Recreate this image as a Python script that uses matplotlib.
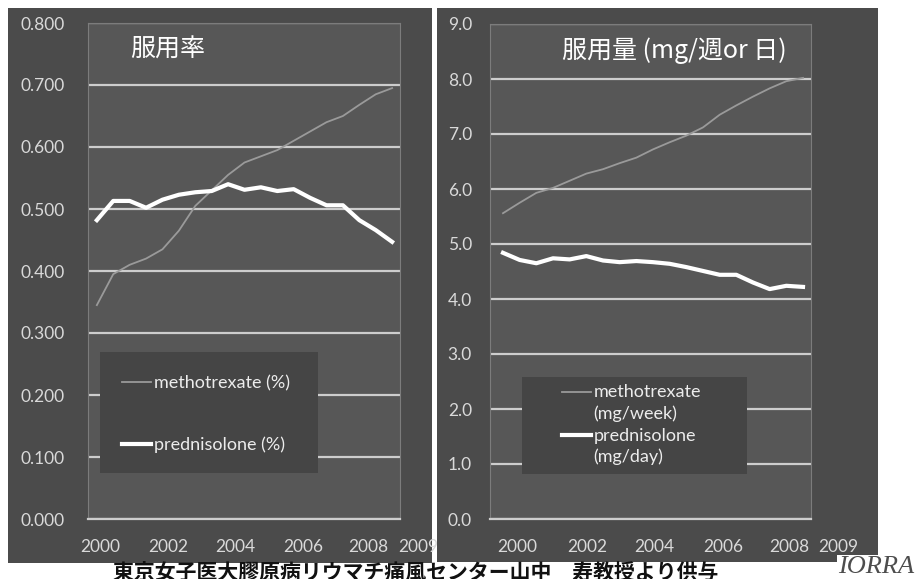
#! /usr/bin/env python3
# -*- coding: utf-8 -*-
import matplotlib
matplotlib.use('Agg')
import matplotlib.pyplot as plt
from matplotlib.patches import Rectangle
from matplotlib import transforms

# half-year survey points, 2000 .. 2009
Years = [2000 + 0.5 * i for i in range(19)]

# left panel: rate of use
Mtx_rate = [0.345, 0.395, 0.410, 0.420, 0.435, 0.465, 0.505, 0.530, 0.555, 0.575,
            0.585, 0.595, 0.610, 0.625, 0.640, 0.650, 0.668, 0.685, 0.695]
Psl_rate = [0.482, 0.513, 0.513, 0.502, 0.515, 0.523, 0.527, 0.529, 0.540, 0.531,
            0.535, 0.529, 0.532, 0.518, 0.506, 0.506, 0.482, 0.466, 0.447]

# right panel: dose
Mtx_dose = [5.56, 5.75, 5.93, 6.02, 6.15, 6.28, 6.36, 6.47, 6.57, 6.72,
            6.85, 6.97, 7.12, 7.35, 7.52, 7.68, 7.83, 7.96, 8.02]
Psl_dose = [4.84, 4.71, 4.65, 4.74, 4.72, 4.78, 4.70, 4.67, 4.69, 4.67,
            4.64, 4.58, 4.51, 4.44, 4.44, 4.30, 4.18, 4.24, 4.22]

Xtick_labels = ['2000', '2002', '2004', '2006', '2008', '2009']
Title_left = '服用率'
Title_right = '服用量 (mg/週or 日)'
Legend_left = ['methotrexate (%)', 'prednisolone (%)']
Legend_right = ['methotrexate\n(mg/week)', 'prednisolone\n(mg/day)']
Footer = '東京女子医大膠原病リウマチ痛風センター山中　寿教授より供与'

# layout (label positions in the original are a bit off the data grid)
Xtick_pos_left = [2000.09, 2002.16, 2004.21, 2006.28, 2008.26, 2009.79]
Xtick_pos_right = [2000.42, 2002.52, 2004.53, 2006.60, 2008.58, 2010.05]

W, H = 916, 579
PANEL = '#4b4b4b'
PLOT = '#575757'
GRID = '#cdcdcd'
TXT = '#d9d9d9'
JP = ['Noto Sans CJK JP', 'DejaVu Sans']
LAT = ['Lato', 'DejaVu Sans']


def px(x0, y0, x1, y1):
    # pixel box (top-left origin) -> figure fraction rect
    return [x0 / W, 1 - y1 / H, (x1 - x0) / W, (y1 - y0) / H]


def styleAxis(ax, ymax, ystep, fmt, ypad, xlim, xticks):
    ax.set_facecolor(PLOT)
    ax.set_xlim(*xlim)
    ax.set_ylim(0, ymax)
    n = int(round(ymax / ystep))
    ax.set_yticks([i * ystep for i in range(n + 1)])
    ax.set_yticklabels([fmt % (i * ystep) for i in range(n + 1)],
                       fontfamily=LAT, fontsize=12.5, color=TXT)
    ax.set_xticks([])
    ax.tick_params(axis='y', length=0, pad=ypad)
    ax.set_axisbelow(True)
    ax.yaxis.grid(True, color=GRID, lw=1.6, zorder=0.5)
    for s in ax.spines.values():
        s.set_color('#7c7c7c')
        s.set_linewidth(0.8)
    ax.spines['bottom'].set_color(GRID)
    ax.spines['bottom'].set_linewidth(1.6)
    trans = transforms.blended_transform_factory(ax.transData, ax.transAxes)
    for pos, lab in zip(xticks, Xtick_labels):
        ax.text(pos, -0.057, lab, transform=trans, ha='center', va='center',
                fontfamily=LAT, fontsize=12.5, color=TXT, clip_on=False)


def makeLegend(ax, labels, box, anchor, spacing, linesp, lift=0):
    ax.add_patch(Rectangle(box[:2], box[2], box[3], transform=ax.transAxes,
                           facecolor='#454545', edgecolor='none', zorder=3))
    leg = ax.legend(labels, loc='center left', bbox_to_anchor=anchor,
                    frameon=False, borderpad=0, borderaxespad=0,
                    handlelength=1.6, handletextpad=0.15, labelspacing=spacing,
                    prop={'family': LAT, 'size': 13})
    leg.set_zorder(5)
    for t in leg.get_texts():
        t.set_color('#ececec')
        t.set_linespacing(linesp)
    # two-line labels: keep the handle next to the first line
    if lift:
        for line in leg.get_lines():
            line.set_ydata([v + lift for v in line.get_ydata()])
    return leg


def main():
    fig = plt.figure(figsize=(W / 100, H / 100), dpi=100)
    fig.patch.set_facecolor('white')

    # dark slide panels
    for r in [px(8, 8, 432, 563), px(437, 8, 878, 562)]:
        fig.add_artist(Rectangle(r[:2], r[2], r[3], transform=fig.transFigure,
                                 facecolor=PANEL, edgecolor='none', zorder=-2))

    ax1 = fig.add_axes(px(88, 23, 400, 519))
    ax1.plot(Years, Mtx_rate, color='#9a9a9a', lw=1.3, zorder=2)
    ax1.plot(Years, Psl_rate, color='white', lw=3, zorder=2.5)
    styleAxis(ax1, 0.8, 0.1, '%.3f', 17, (1999.73, 2009.24), Xtick_pos_left)
    ax1.text(0.135, 0.946, Title_left, transform=ax1.transAxes, ha='left',
             va='center', fontfamily=JP, fontsize=18, color='white')
    makeLegend(ax1, Legend_left, (0.0385, 0.0927, 0.699, 0.244),
               (0.109, 0.2117), 2.5, 1.2)

    ax2 = fig.add_axes(px(490, 24, 811, 519))
    ax2.plot(Years, Mtx_dose, color='#9a9a9a', lw=1.3, zorder=2)
    ax2.plot(Years, Psl_dose, color='white', lw=3, zorder=2.5)
    styleAxis(ax2, 9.0, 1.0, '%.1f', 13, (1999.61, 2009.24), Xtick_pos_right)
    ax2.text(0.224, 0.946, Title_right, transform=ax2.transAxes, ha='left',
             va='center', fontfamily=JP, fontsize=18, color='white')
    makeLegend(ax2, Legend_right, (0.0997, 0.0909, 0.701, 0.196),
               (0.224, 0.19), 0.35, 1.35, lift=8.5)

    fig.text(113 / W, 1 - 562 / H, Footer, ha='left', va='top',
             fontfamily=JP, fontsize=15, fontweight='bold', color='#111111')
    # logo sits under the axes so the "2009" label stays on top
    fig.text(838 / W, 1 - 567 / H, 'IORRA', ha='left', va='center',
             fontfamily=['Liberation Serif', 'DejaVu Serif'], fontstyle='italic',
             fontsize=19, color='#4d4d4d', zorder=-1,
             bbox=dict(facecolor='white', edgecolor='none', pad=0.5))

    fig.savefig('out.png', dpi=100)


if __name__ == '__main__':
    main()
